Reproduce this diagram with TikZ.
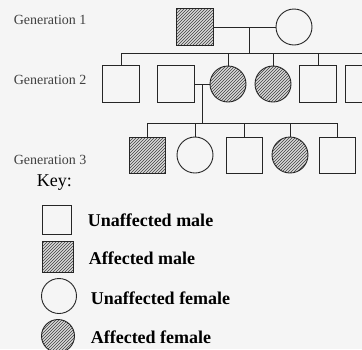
\documentclass[tikz,border=0pt]{standalone}
\usepackage{fontspec}
\setmainfont{Liberation Serif}
\usetikzlibrary{patterns,calc}
\tikzset{
  male/.style={draw, rectangle, inner sep=0pt, minimum size=37pt},
  female/.style={draw, circle, inner sep=0pt, minimum size=36pt},
  affected/.style={preaction={fill=gray!30}, pattern=north east lines, pattern color=black!75},
  genlabel/.style={anchor=west, text=black!75, font=\fontsize{14}{16}\selectfont},
  keylabel/.style={anchor=west, font=\fontsize{18}{20}\selectfont\bfseries}
}
\begin{document}
\begin{tikzpicture}[x=1pt, y=-1pt, line width=0.9pt, draw=black!85]
\fill[black!4] (0,0) rectangle (362,349);
\useasboundingbox (0,0) rectangle (362,349);
\clip (0,0) rectangle (362,349);
% generation labels
\node [genlabel] (l1) at (10,20) {Generation 1};
\node [genlabel] (l2) at (10,80) {Generation 2};
\node [genlabel] (l3) at (10,160) {Generation 3};
% generation 1
\node [male, affected] (g1a) at (195,27) {};
\node [female] (g1b) at (294,27) {};
\coordinate (m1) at (249,27);
\coordinate (s2) at (0,53);
\draw (g1a) -- (g1b)
  (m1) -- (m1 |- s2);
% generation 2
\node [male] (g2a) at (121,84) {};
\node [male] (g2b) at (176,84) {};
\node [female, affected] (g2c) at (228,84) {};
\node [female, affected] (g2d) at (273,84) {};
\node [male] (g2e) at (318,84) {};
\node [male] (g2f) at (364,84) {};
\draw (g2a |- s2) -- (g2f |- s2);
\foreach \n in {g2a,g2c,g2d,g2e,g2f}
  \draw (\n |- s2) -- (\n);
\draw (g2b) -- (g2c);
\coordinate (m2) at ($(g2b.east)!0.5!(g2c.west)$);
% generation 3
\coordinate (s3) at (0,123);
\node [male, affected, minimum size=36pt] (g3a) at (147,155) {};
\node [female] (g3b) at (195,155) {};
\node [male, minimum size=36pt] (g3c) at (244,155) {};
\node [female, affected] (g3d) at (290,155) {};
\node [male, minimum size=36pt] (g3e) at (337,155) {};
\draw (m2) -- (m2 |- s3)
  (g3a |- s3) -- (g3e |- s3);
\foreach \n in {g3a,g3b,g3c,g3d,g3e}
  \draw (\n |- s3) -- (\n);
% key
\node [anchor=west, font=\fontsize{18}{20}\selectfont] (key) at (33,183) {Key:};
\node [male, minimum size=29pt] (k1) at (57,220) {};
\node [male, affected, minimum size=31pt] (k2) at (58,257) {};
\node [female, minimum size=35pt] (k3) at (59,296) {};
\node [female, affected, minimum size=33pt] (k4) at (58,336) {};
\node [keylabel] (t1) at (84,220) {Unaffected male};
\node [keylabel] (t2) at (85,258) {Affected male};
\node [keylabel] (t3) at (87,298) {Unaffected female};
\node [keylabel] (t4) at (87,337) {Affected female};
\end{tikzpicture}
\end{document}
